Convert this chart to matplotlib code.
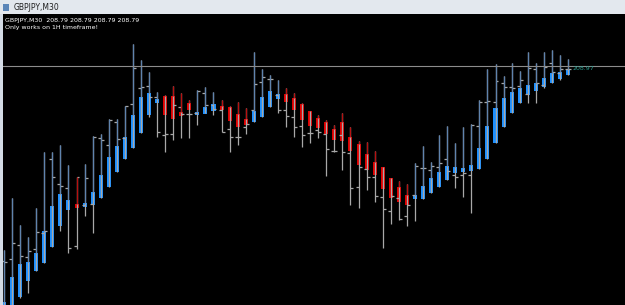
import matplotlib.pyplot as plt
from matplotlib.patches import Rectangle

# GBPJPY M30 bars (gray OHLC bars) and the heiken-ashi style bodies drawn on top
high = [207.13, 207.65, 207.38, 207.26, 207.55, 208.11, 208.11, 208.18, 207.98, 207.86,
        207.99, 208.27, 208.29, 208.44, 208.44, 208.57, 209.19, 209.03, 208.91, 208.71,
        208.68, 208.77, 208.70, 208.63, 208.73, 208.76, 208.71, 208.63, 208.57, 208.61,
        208.55, 209.11, 208.94, 208.88, 208.83, 208.75, 208.70, 208.60, 208.52, 208.48,
        208.43, 208.38, 208.50, 208.36, 208.22, 208.21, 208.12, 207.96, 207.85, 207.82,
        207.79, 208.00, 208.17, 208.01, 208.28, 208.37, 208.20, 208.36, 208.39, 208.63,
        208.94, 208.99, 208.87, 209.00, 208.92, 209.11, 209.00, 209.11, 209.13, 209.08,
        209.04]
low = [206.53, 206.53, 206.65, 206.70, 206.92, 207.00, 207.16, 207.32, 207.10, 207.14,
       207.47, 207.30, 207.65, 207.76, 207.91, 208.04, 208.15, 208.30, 208.46, 208.26,
       208.11, 208.23, 208.25, 208.25, 208.38, 208.50, 208.48, 208.31, 208.11, 208.18,
       208.29, 208.41, 208.46, 208.56, 208.50, 208.36, 208.26, 208.16, 208.20, 208.25,
       207.87, 208.11, 207.93, 207.58, 207.55, 207.73, 207.61, 207.15, 207.39, 207.43,
       207.37, 207.42, 207.64, 207.70, 207.76, 207.83, 207.75, 207.66, 207.50, 207.94,
       208.04, 208.20, 208.36, 208.50, 208.60, 208.60, 208.60, 208.75, 208.80, 208.83,
       208.88]
open_ = [207.02, 207.04, 207.18, 207.06, 207.14, 207.30, 208.04, 207.79, 207.75, 207.17,
         207.58, 207.59, 208.25, 208.18, 208.41, 208.25, 208.59, 208.75, 208.77, 208.66,
         208.28, 208.29, 208.56, 208.49, 208.50, 208.70, 208.58, 208.53, 208.34, 208.26,
         208.36, 208.53, 208.81, 208.84, 208.68, 208.53, 208.46, 208.37, 208.30, 208.33,
         208.29, 208.12, 208.28, 208.10, 207.76, 207.94, 207.86, 207.66, 207.52, 207.65,
         207.47, 207.68, 207.95, 207.93, 207.96, 208.04, 207.88, 207.88, 207.88, 208.37,
         208.61, 208.61, 208.80, 208.76, 208.77, 208.69, 208.94, 208.78, 209.00, 208.90,
         208.94]
close = [207.01, 207.20, 207.07, 207.12, 207.31, 207.32, 207.86, 207.77, 207.15, 207.86,
         207.85, 208.26, 208.23, 208.43, 208.24, 208.57, 208.95, 208.76, 208.66, 208.31,
         208.29, 208.58, 208.49, 208.49, 208.72, 208.58, 208.54, 208.31, 208.26, 208.26,
         208.39, 208.79, 208.86, 208.84, 208.53, 208.47, 208.36, 208.28, 208.30, 208.31,
         208.14, 208.12, 208.11, 207.75, 207.96, 207.86, 207.67, 207.54, 207.67, 207.44,
         207.58, 207.97, 207.95, 207.97, 208.00, 207.92, 207.86, 207.90, 208.38, 208.61,
         208.62, 208.82, 208.76, 208.75, 208.83, 208.95, 208.80, 208.96, 208.91, 208.94,
         208.94]
ha_open = [206.53, 206.53, 206.66, 206.82, 206.92, 207.00, 207.16, 207.37, 207.53, 207.59,
           207.56, 207.58, 207.65, 207.76, 207.91, 208.04, 208.15, 208.30, 208.48, 208.60,
           208.67, 208.67, 208.51, 208.60, 208.48, 208.49, 208.52, 208.57, 208.56, 208.49,
           208.44, 208.41, 208.46, 208.56, 208.64, 208.69, 208.65, 208.59, 208.52, 208.45,
           208.41, 208.34, 208.41, 208.26, 208.19, 208.09, 208.01, 207.96, 207.85, 207.76,
           207.68, 207.64, 207.64, 207.70, 207.76, 207.83, 207.90, 207.91, 207.92, 207.94,
           208.04, 208.20, 208.36, 208.50, 208.60, 208.68, 208.72, 208.76, 208.80, 208.84,
           208.88]
ha_close = [206.61, 206.86, 206.99, 207.01, 207.10, 207.32, 207.57, 207.69, 207.63, 207.55,
            207.60, 207.71, 207.88, 208.06, 208.17, 208.26, 208.48, 208.66, 208.70, 208.64,
            208.48, 208.44, 208.47, 208.53, 208.51, 208.56, 208.59, 208.53, 208.42, 208.36,
            208.38, 208.52, 208.66, 208.72, 208.69, 208.61, 208.53, 208.43, 208.37, 208.35,
            208.29, 208.23, 208.22, 208.12, 207.98, 207.93, 207.88, 207.74, 207.65, 207.61,
            207.58, 207.68, 207.77, 207.85, 207.91, 207.97, 207.96, 207.95, 207.98, 208.15,
            208.37, 208.55, 208.65, 208.71, 208.75, 208.78, 208.80, 208.85, 208.90, 208.91,
            208.94]
last_price = 208.97

fig = plt.figure(figsize=(6.25, 3.05), dpi=100)
fig.patch.set_facecolor('#d3dbe5')

# window title strip
fig.patches.append(Rectangle((0, 0.955), 1, 0.045, transform=fig.transFigure,
                             facecolor='#e3e8ee', edgecolor='none'))
fig.text(0.022, 0.977, 'GBPJPY,M30', fontsize=5.5, color='#202020', va='center')
fig.patches.append(Rectangle((0.005, 0.965), 0.01, 0.022, transform=fig.transFigure,
                             facecolor='#5b86b8', edgecolor='none'))

ax = fig.add_axes([3 / 625, 0, 622 / 625, 291 / 305])
ax.set_facecolor('black')
for s in ax.spines.values():
    s.set_visible(False)
ax.set_xticks([])
ax.set_yticks([])

x = list(range(len(high)))
tick = 0.37
for i in x:
    ax.vlines(i, low[i], high[i], color='#a8a8a8', lw=0.9)
    ax.hlines(open_[i], i - tick, i, color='#a8a8a8', lw=0.9)
    ax.hlines(close[i], i, i + tick, color='#a8a8a8', lw=0.9)
    up = ha_close[i] >= ha_open[i]
    col = '#1e90ff' if up else '#e00000'
    wick = '#5f83ad' if up else '#b81010'
    top = max(ha_open[i], ha_close[i])
    bot = min(ha_open[i], ha_close[i])
    ax.vlines(i, top, high[i], color=wick, lw=0.9)
    ax.bar(i, max(top - bot, 0.01), bottom=bot, width=0.5, color=col, linewidth=0)

ax.axhline(last_price, color='#8c8c8c', lw=0.8)
ax.text(len(high) - 0.4, last_price - 0.02, '%.2f' % last_price, fontsize=4.5,
        color='#2a9d8f', va='center', ha='left')

ax.text(0.004, 0.985, 'GBPJPY,M30  208.79 208.79 208.79 208.79', transform=ax.transAxes,
        fontsize=4.5, color='white', va='top')
ax.text(0.004, 0.962, 'Only works on 1H timeframe!', transform=ax.transAxes,
        fontsize=4.5, color='white', va='top')

ax.set_xlim(-0.124, 77.07)
ax.set_ylim(206.58, 209.49)

plt.savefig('out.png', dpi=100, facecolor=fig.get_facecolor())
